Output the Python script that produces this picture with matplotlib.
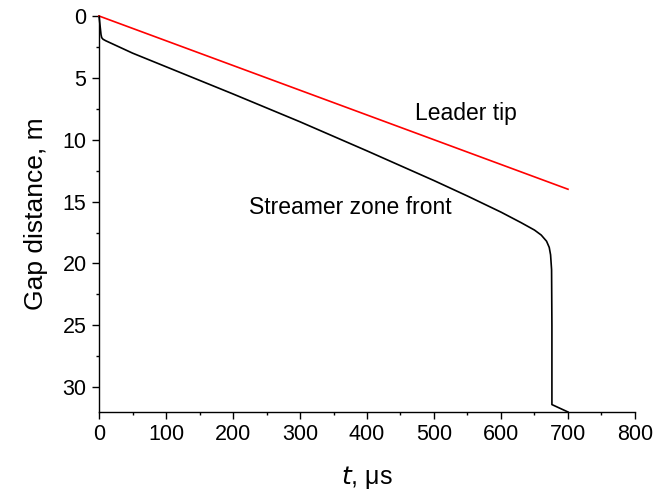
import matplotlib
matplotlib.use("Agg")
import matplotlib.pyplot as plt
from matplotlib.ticker import MultipleLocator

plt.rcParams['font.family'] = ['Liberation Sans', 'DejaVu Sans']

# Leader tip
leader_t = [0, 700]
leader_d = [0, 14.0]

# Streamer zone front
streamer_t = [0, 1, 2, 3, 4, 6, 10, 50, 100, 200, 300, 400, 500, 550, 600,
              630, 650, 660, 668, 672, 674, 675.5, 676, 676, 700]
streamer_d = [0, 0.5, 1.0, 1.5, 1.75, 1.88, 2.0, 3.0, 4.1, 6.3, 8.55, 10.9,
              13.3, 14.55, 15.85, 16.7, 17.3, 17.7, 18.2, 18.7, 19.3, 20.5,
              25.0, 31.4, 32.0]

fig = plt.figure(figsize=(6.57, 4.98), dpi=100)
ax = fig.add_axes([0.1507, 0.1727, 0.8158, 0.7952])

ax.plot(streamer_t, streamer_d, color='black', lw=1.2, clip_on=False)
ax.plot(leader_t, leader_d, color='red', lw=1.2, clip_on=False)

ax.set_xlim(0, 800)
ax.set_ylim(32, 0)
ax.xaxis.set_major_locator(MultipleLocator(100))
ax.xaxis.set_minor_locator(MultipleLocator(50))
ax.yaxis.set_major_locator(MultipleLocator(5))
ax.yaxis.set_minor_locator(MultipleLocator(2.5))

for s in ['top', 'right']:
    ax.spines[s].set_visible(False)
for s in ['left', 'bottom']:
    ax.spines[s].set_linewidth(1.0)

ax.tick_params(which='major', direction='out', length=5, width=1.0,
               labelsize=15.5, pad=4)
ax.tick_params(which='minor', direction='out', length=2.5, width=1.0)

ax.set_ylabel('Gap distance, m', fontsize=19, labelpad=10)
ax.set_xlabel(r'$t$, μs', fontsize=18, labelpad=13)

ax.text(471, 7.84, 'Leader tip', fontsize=16.5, ha='left', va='center')
ax.text(526, 15.5, 'Streamer zone front', fontsize=16.5, ha='right', va='center')

fig.savefig('out.png', dpi=100)
